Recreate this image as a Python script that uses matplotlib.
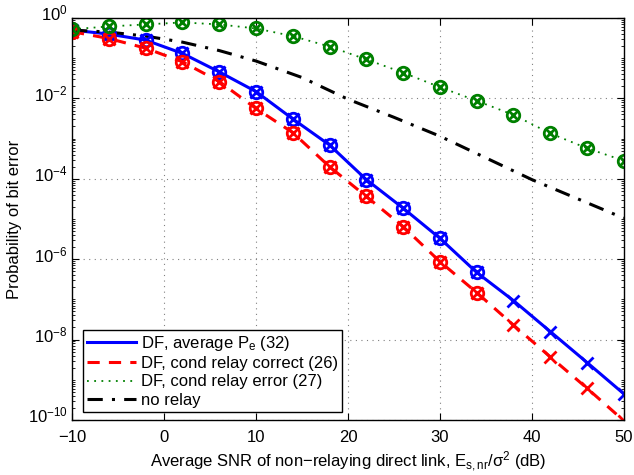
import numpy as np
import matplotlib
matplotlib.use("Agg")
import matplotlib.pyplot as plt
import matplotlib.transforms as mtransforms
from matplotlib.ticker import FixedLocator, NullFormatter

plt.rcParams['font.family'] = ['Liberation Sans', 'DejaVu Sans']
plt.rcParams['mathtext.fontset'] = 'custom'
plt.rcParams['mathtext.rm'] = 'Liberation Sans'
plt.rcParams['mathtext.it'] = 'Liberation Sans:italic'

# SNR points (dB)
snr = [-10, -6, -2, 2, 6, 10, 14, 18, 22, 26, 30, 34, 38, 42, 46, 50]
# log10 of bit error probabilities
avg_log = [-0.30, -0.40, -0.55, -0.88, -1.34, -1.83, -2.51, -3.16, -4.02, -4.73,
           -5.48, -6.33, -7.03, -7.80, -8.57, -9.35]
correct_log = [-0.34, -0.51, -0.75, -1.09, -1.58, -2.25, -2.85, -3.70, -4.44, -5.19,
               -6.06, -6.83, -7.64, -8.43, -9.21, -10.02]
error_log = [-0.28, -0.21, -0.16, -0.11, -0.16, -0.26, -0.45, -0.71, -1.03, -1.36,
             -1.72, -2.06, -2.41, -2.87, -3.24, -3.55]
norelay_snr = [-10, -6, -2, 2, 6, 10, 15, 20, 25, 30, 35, 40, 45, 50]
norelay_log = [-0.30, -0.35, -0.45, -0.60, -0.81, -1.07, -1.48, -2.02, -2.47, -2.94,
               -3.48, -4.02, -4.50, -4.98]

# circle markers shown up to this SNR for avg/correct curves
circ_max = 34

avg = 10.0 ** np.array(avg_log)
correct = 10.0 ** np.array(correct_log)
error = 10.0 ** np.array(error_log)
norelay = 10.0 ** np.array(norelay_log)
snr_a = np.array(snr)
circ_mask = snr_a <= circ_max

fig = plt.figure(figsize=(6.34, 4.75), dpi=100)
ax = fig.add_axes([0.1136, 0.1158, 0.8704, 0.8463])

blue = (0, 0, 1)
red = (1, 0, 0)
green = (0, 0.5, 0)

ax.semilogy(snr_a, avg, '-', color=blue, lw=2.2, label='DF, average P$_{\\mathrm{e}}$ (32)')
ax.semilogy(snr_a, correct, '--', color=red, lw=2.2, dashes=(4, 3), label='DF, cond relay correct (26)')
ax.semilogy(snr_a, error, ':', color=green, lw=1.3, dashes=(1, 3), label='DF, cond relay error (27)')
ax.semilogy(norelay_snr, norelay, '-.', color='black', lw=2.2, dashes=(5, 3, 1, 3), label='no relay')

ms = 9
mew = 2
for y, c in [(avg, blue), (correct, red)]:
    ax.plot(snr_a, y, 'x', color=c, ms=ms, mew=mew)
    ax.plot(snr_a[circ_mask], y[circ_mask], 'o', mfc='none', mec=c, ms=ms, mew=mew)
ax.plot(snr_a, error, 'x', color=green, ms=ms - 2, mew=mew)
ax.plot(snr_a, error, 'o', mfc='none', mec=green, ms=ms, mew=mew)

ax.set_xlim(-10, 50)
ax.set_ylim(1e-10, 1)
ax.set_xticks([-10, 0, 10, 20, 30, 40, 50])
ax.set_xticklabels(['\u221210', '0', '10', '20', '30', '40', '50'])
ax.yaxis.set_major_locator(FixedLocator([1e-10, 1e-8, 1e-6, 1e-4, 1e-2, 1]))
ax.set_yticklabels(['$10^{-10}$', '$10^{-8}$', '$10^{-6}$', '$10^{-4}$', '$10^{-2}$', '$10^{0}$'])
minor = [m * 10.0 ** k for k in range(-10, 0) for m in range(1, 10) if not (m == 1 and k % 2 == 0)]
ax.yaxis.set_minor_locator(FixedLocator(minor))
ax.yaxis.set_minor_formatter(NullFormatter())

ax.tick_params(which='both', direction='in', top=True, right=True, labelsize=12)
ax.tick_params(which='major', length=5)
ax.tick_params(which='minor', length=2.5)
ax.tick_params(axis='x', pad=7)
ax.tick_params(axis='y', pad=3)
ax.grid(True, which='major', linestyle=(0, (1, 4)), color='#808080', lw=0.8)
for s in ax.spines.values():
    s.set_linewidth(1.0)

# shift y tick labels up so the "10" sits on the tick, exponent above
offset = mtransforms.ScaledTranslation(0, 4 / 72, fig.dpi_scale_trans)
for lab in ax.get_yticklabels():
    lab.set_transform(lab.get_transform() + offset)

ax.set_xlabel('Average SNR of non\u2212relaying direct link, E$_{\\mathrm{s,nr}}$/\u03c3$^2$ (dB)', fontsize=12,
              labelpad=4)
ax.set_ylabel('Probability of bit error', fontsize=12, labelpad=4)

leg = ax.legend(loc='lower left', bbox_to_anchor=(0.02, 0.02), fontsize=12, frameon=True,
                fancybox=False, edgecolor='black', framealpha=1, borderpad=0.25,
                labelspacing=0.2, handlelength=2.9, handletextpad=0.3, borderaxespad=0)
leg.get_frame().set_linewidth(1.0)

fig.savefig('out.png', dpi=100)
